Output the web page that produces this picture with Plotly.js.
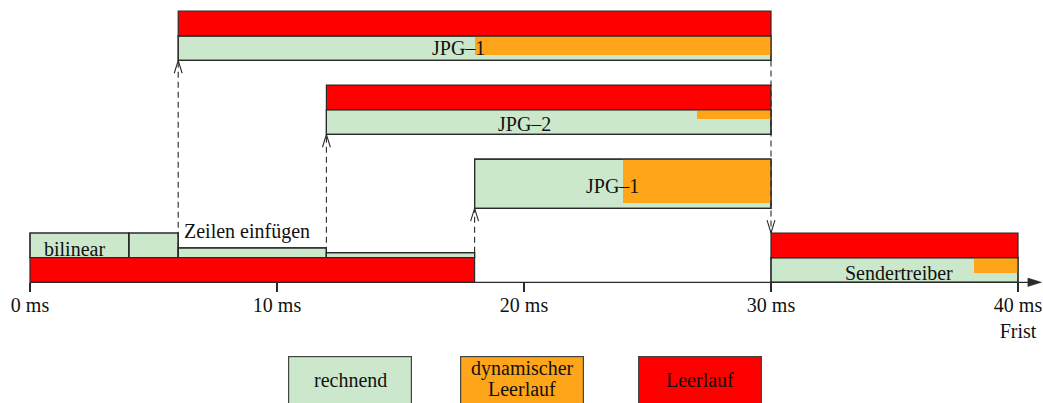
<!DOCTYPE html>
<html><head><meta charset="utf-8">
<script src="https://cdn.plot.ly/plotly-3.0.1.min.js"></script>
<style>html,body{margin:0;padding:0;background:#fff}#chart{width:1043px;height:403px}</style>
</head><body><div id="chart"></div>
<script>
// ---------------- data (times in ms) ----------------
const taskLabels = ['JPG–1', 'JPG–2', 'JPG–1', 'bilinear', 'Zeilen einfügen', 'Sendertreiber'];
const tickValues = [0, 10, 20, 30, 40];
const tickLabels = ['0 ms', '10 ms', '20 ms', '30 ms', '40 ms<br>Frist'];
const legendLabels = ['rechnend', 'dynamischer<br>Leerlauf', 'Leerlauf'];

// rechnend (computing)
const computeStart = [6, 12, 18, 0, 4, 6, 12, 30];
const computeEnd   = [30, 30, 30, 4, 6, 12, 18, 40];
// dynamischer Leerlauf (dynamic idle)
const dynStart = [18, 27, 24, 38.2];
const dynEnd   = [30, 30, 30, 40];
// Leerlauf (idle)
const idleStart = [6, 12, 0, 30];
const idleEnd   = [30, 30, 18, 40];
// dependencies (dashed arrows) at these times
const depTime = [6, 12, 18, 30];

// ---------------- layout of lanes (positions / sizes) ----------------
const computeLane = [9, 6, 3, 1, 1, 1, 1, 0];
const computeSize = [1, 1, 2, 1, 1, 0.4, 0.2, 1];
const dynTop  = [10, 7, 5, 1];
const dynSize = [0.78, 0.37, 1.8, 0.61];
const idleLane = [10, 7, 0, 1];
const depFrom = [1.4, 1.2, 1.2, 9];
const depTo   = [9, 6, 3, 2];
const labelX = [17.35, 20.04, 23.6, 1.81, 8.79, 35.2];
const labelY = [9.51, 6.44, 3.91, 1.37, 2.08, 0.38];

// ---------------- styles ----------------
const GREEN = 'rgb(204,232,204)', ORANGE = 'rgb(254,165,26)', RED = 'rgb(255,0,0)';
const EDGE = '#2a2a2a', INK = '#111';
const FONT = 'Liberation Serif, Times New Roman, serif';
const FS = 20;

function hbar(starts, ends, lows, sizes, color, lineW) {
  return {
    type: 'bar', orientation: 'h',
    base: starts,
    x: starts.map((s, i) => ends[i] - s),
    y: lows.map((l, i) => l + sizes[i] / 2),
    width: sizes,
    marker: {color: color, line: {color: EDGE, width: lineW}},
    hoverinfo: 'skip', showlegend: false
  };
}

const ones = a => a.map(() => 1);
const traces = [];
traces.push(hbar(computeStart, computeEnd, computeLane, computeSize, GREEN, 1.2));
traces.push(hbar(dynStart, dynEnd, dynTop.map((t, i) => t - dynSize[i]), dynSize, ORANGE, 0));
traces.push(hbar(computeStart, computeEnd, computeLane, computeSize, 'rgba(0,0,0,0)', 1.2));
traces.push(hbar(idleStart, idleEnd, idleLane, ones(idleStart), RED, 1.2));

// dashed dependency lines + open arrowheads
depTime.forEach((t, i) => {
  traces.push({type: 'scatter', mode: 'lines', x: [t, t], y: [depFrom[i], depTo[i]],
    line: {color: EDGE, width: 1.1, dash: '6px,4px'}, hoverinfo: 'skip', showlegend: false});
  const dir = Math.sign(depTo[i] - depFrom[i]);
  const hw = 0.16, hl = 0.52;
  traces.push({type: 'scatter', mode: 'lines',
    x: [t - hw, t, t + hw], y: [depTo[i] - dir * hl, depTo[i], depTo[i] - dir * hl],
    line: {color: EDGE, width: 1.1}, hoverinfo: 'skip', showlegend: false});
});

// time axis line with filled arrowhead
const axisEnd = Math.max(...tickValues) + 0.95;
traces.push({type: 'scatter', mode: 'lines', x: [0, axisEnd - 0.3], y: [0, 0],
  line: {color: EDGE, width: 1.3}, hoverinfo: 'skip', showlegend: false, cliponaxis: false});
traces.push({type: 'scatter', mode: 'lines', x: [axisEnd - 0.55, axisEnd, axisEnd - 0.55, axisEnd - 0.55],
  y: [0.17, 0, -0.17, 0.17], fill: 'toself', fillcolor: EDGE,
  line: {color: EDGE, width: 0.5}, hoverinfo: 'skip', showlegend: false, cliponaxis: false});

const annotations = [];
taskLabels.forEach((txt, i) => {
  annotations.push({xref: 'x', yref: 'y', x: labelX[i], y: labelY[i], text: txt, showarrow: false,
    xanchor: 'center', yanchor: 'middle', font: {family: FONT, size: FS, color: INK}});
});

// legend boxes
const W = 1043, H = 403;
const legColors = [GREEN, ORANGE, RED];
const legLeft = [288, 460, 638];
const legW = 122;
legendLabels.forEach((lab, i) => {
  annotations.push({xref: 'paper', yref: 'paper', x: legLeft[i] / W, y: 1 - 356 / H,
    xanchor: 'left', yanchor: 'top', text: ' ', showarrow: false,
    width: legW, height: 60, bgcolor: legColors[i], bordercolor: '#444', borderwidth: 1.2, borderpad: 0,
    font: {family: FONT, size: FS, color: INK}});
  const lines = lab.split('<br>');
  const cx = (legLeft[i] + legW / 2 + 1) / W;
  if (lines.length === 1) {
    annotations.push({xref: 'paper', yref: 'paper', x: cx, y: 1 - 379.6 / H, text: lines[0],
      showarrow: false, xanchor: 'center', yanchor: 'middle', font: {family: FONT, size: FS, color: INK}});
  } else {
    const ys = [368.6, 389.3];
    lines.forEach((ln, k) => annotations.push({xref: 'paper', yref: 'paper', x: cx, y: 1 - ys[k] / H, text: ln,
      showarrow: false, xanchor: 'center', yanchor: 'middle', font: {family: FONT, size: FS, color: INK}}));
  }
});

const layout = {
  width: W, height: H,
  margin: {l: 0, r: 0, t: 0, b: 0},
  paper_bgcolor: '#fff', plot_bgcolor: '#fff',
  barmode: 'overlay', bargap: 0,
  showlegend: false,
  xaxis: {range: [-30 / 24.7, -30 / 24.7 + W / 24.7], tickmode: 'array', tickvals: tickValues, ticktext: tickLabels,
    ticks: 'outside', ticklen: 9, tickwidth: 1.3, tickcolor: EDGE, showline: false, showgrid: false, zeroline: false,
    ticklabelstandoff: -4,
    anchor: 'free', position: (H - 282.3) / H, tickfont: {family: FONT, size: FS, color: INK}, fixedrange: true},
  yaxis: {range: [-(H - 282.3) / 24.65, 282.3 / 24.65], visible: false, fixedrange: true},
  annotations: annotations
};

Plotly.newPlot('chart', traces, layout, {staticPlot: true, displayModeBar: false});
</script></body></html>
